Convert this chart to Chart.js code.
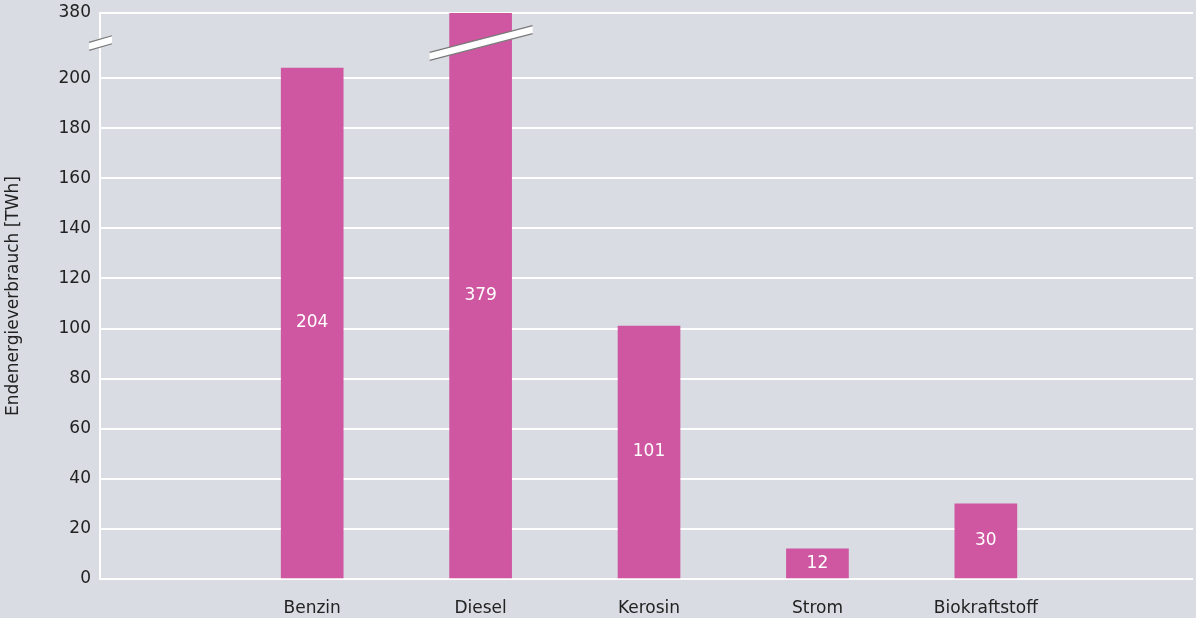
<!DOCTYPE html>
<html>
<head>
<meta charset="utf-8">
<script src="https://cdn.jsdelivr.net/npm/chart.js@4.4.1/dist/chart.umd.min.js"></script>
<style>
  html, body { margin: 0; padding: 0; background: #d9dce3; }
  #wrap { width: 1196px; height: 618px; }
</style>
</head>
<body>
<div id="wrap"><canvas id="chart"></canvas></div>
<script>
// values (TWh)
const categories = ['Benzin', 'Diesel', 'Kerosin', 'Strom', 'Biokraftstoff'];
const values = [204, 379, 101, 12, 30];
const yTicks = [0, 20, 40, 60, 80, 100, 120, 140, 160, 180, 200, 380];

// broken axis: linear up to 214, compressed from 214 to 380
const BREAK_AT = 214;
const TOP_REAL = 380;
const TOP_AXIS = 226;
function toAxis(v) {
  if (v <= BREAK_AT) return v;
  return BREAK_AT + (v - BREAK_AT) * (TOP_AXIS - BREAK_AT) / (TOP_REAL - BREAK_AT);
}

const barColor = '#cf56a1';
const textColor = '#222222';
const fontFamily = "'DejaVu Sans', 'Noto Sans', sans-serif";

// white labels centred in the bars
const valueLabels = {
  id: 'valueLabels',
  afterDatasetsDraw(chart) {
    const ctx = chart.ctx;
    const meta = chart.getDatasetMeta(0);
    ctx.save();
    ctx.fillStyle = '#ffffff';
    ctx.font = '17px ' + fontFamily;
    ctx.textAlign = 'center';
    ctx.textBaseline = 'middle';
    meta.data.forEach((bar, i) => {
      const mid = (bar.y + bar.base) / 2;
      ctx.fillText(String(values[i]), bar.x, mid);
    });
    ctx.restore();
  }
};

// break marks on the y axis and across the Diesel bar
function drawBreak(ctx, x0, x1, yc, slope, half) {
  const xm = (x0 + x1) / 2;
  const y0 = yc + (x0 - xm) * slope;
  const y1 = yc + (x1 - xm) * slope;
  ctx.beginPath();
  ctx.moveTo(x0, y0 - half);
  ctx.lineTo(x1, y1 - half);
  ctx.lineTo(x1, y1 + half);
  ctx.lineTo(x0, y0 + half);
  ctx.closePath();
  ctx.fillStyle = '#ffffff';
  ctx.fill();
  ctx.strokeStyle = '#7a7a7a';
  ctx.lineWidth = 1.2;
  ctx.beginPath();
  ctx.moveTo(x0, y0 - half);
  ctx.lineTo(x1, y1 - half);
  ctx.moveTo(x0, y0 + half);
  ctx.lineTo(x1, y1 + half);
  ctx.stroke();
}

const breakMarks = {
  id: 'breakMarks',
  afterDatasetsDraw(chart) {
    const ctx = chart.ctx;
    const y = chart.scales.y;
    const yc = y.getPixelForValue(BREAK_AT);
    ctx.save();
    drawBreak(ctx, y.right - 11, y.right + 12, yc, -0.29, 4);
    const diesel = chart.getDatasetMeta(0).data[1];
    drawBreak(ctx, diesel.x - 51, diesel.x + 52, yc, -0.26, 4);
    ctx.restore();
  }
};

new Chart(document.getElementById('chart'), {
  type: 'bar',
  data: {
    datasets: [{
      data: values.map((v, i) => ({ x: i + 1, y: toAxis(v) })),
      backgroundColor: barColor,
      borderWidth: 0,
      barThickness: 62
    }]
  },
  options: {
    responsive: true,
    maintainAspectRatio: false,
    animation: false,
    layout: { padding: { top: 13, right: 3, left: 0, bottom: 0 } },
    plugins: {
      legend: { display: false },
      tooltip: { enabled: false }
    },
    scales: {
      x: {
        type: 'linear',
        offset: false,
        min: -0.26,
        max: 6.23,
        grid: { display: false },
        border: { display: false },
        afterBuildTicks: axis => { axis.ticks = categories.map((c, i) => ({ value: i + 1 })); },
        afterFit: axis => { axis.height = 39; },
        ticks: {
          color: textColor,
          font: { family: fontFamily, size: 17 },
          padding: 11,
          autoSkip: false,
          maxRotation: 0,
          callback: v => categories[v - 1] || ''
        }
      },
      y: {
        min: 0,
        max: TOP_AXIS,
        afterBuildTicks: axis => { axis.ticks = yTicks.map(t => ({ value: toAxis(t) })); },
        afterFit: axis => { axis.width = 100; axis.paddingTop = 0; },
        grid: { color: '#ffffff', lineWidth: 2, drawTicks: false },
        border: { color: '#ffffff', width: 2 },
        ticks: {
          color: textColor,
          font: { family: fontFamily, size: 17 },
          padding: 9,
          callback: v => (v === TOP_AXIS ? '380' : v)
        },
        title: {
          display: true,
          text: 'Endenergieverbrauch [TWh]',
          color: textColor,
          font: { family: fontFamily, size: 17 },
          padding: { top: 3, bottom: 0 }
        }
      }
    }
  },
  plugins: [valueLabels, breakMarks]
});
</script>
</body>
</html>
